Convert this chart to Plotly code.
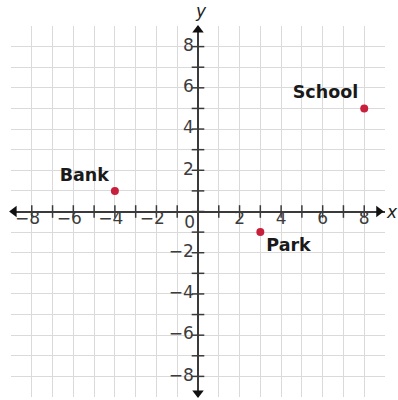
import plotly.graph_objects as go

# places on the coordinate plane
place_names = ["Bank", "School", "Park"]
place_x = [-4, 8, 3]
place_y = [1, 5, -1]
label_pos = ["top left", "top left", "bottom right"]

# axis tick values
ticks = list(range(-8, 9))
tick_labels = [-8, -6, -4, -2, 2, 4, 6, 8]

FONT = "DejaVu Sans"
AXIS_COLOR = "#3a3a3a"
LABEL_COLOR = "#3c3c3c"

fig = go.Figure()

# small tick marks on the two axes
fig.add_trace(go.Scatter(
    x=ticks, y=[0] * len(ticks), mode="markers",
    marker=dict(symbol="line-ns", size=9, line=dict(width=1.5, color=AXIS_COLOR)),
    hoverinfo="skip", cliponaxis=False))
fig.add_trace(go.Scatter(
    x=[0] * len(ticks), y=ticks, mode="markers",
    marker=dict(symbol="line-ew", size=9, line=dict(width=1.5, color=AXIS_COLOR)),
    hoverinfo="skip", cliponaxis=False))

# arrow heads
fig.add_trace(go.Scatter(
    x=[-8.85, 8.7, 0, 0], y=[0, 0, 8.8, -8.8], mode="markers",
    marker=dict(symbol=["triangle-left", "triangle-right", "triangle-up", "triangle-down"],
                size=10, color="#111111"),
    hoverinfo="skip", cliponaxis=False))

# x tick labels (minus sign hangs to the left)
fig.add_trace(go.Scatter(
    x=[v - 0.2 if v < 0 else v for v in tick_labels], y=[0] * len(tick_labels),
    mode="text", text=[str(v).replace("-", "\u2212") for v in tick_labels],
    textposition="bottom center", textfont=dict(family=FONT, size=17, color=LABEL_COLOR),
    hoverinfo="skip", cliponaxis=False))
# y tick labels
fig.add_trace(go.Scatter(
    x=[-0.2] * len(tick_labels), y=tick_labels,
    mode="text", text=[str(v).replace("-", "\u2212") for v in tick_labels],
    textposition="middle left", textfont=dict(family=FONT, size=17, color=LABEL_COLOR),
    hoverinfo="skip", cliponaxis=False))
# origin label
fig.add_trace(go.Scatter(
    x=[-0.4], y=[-0.6], mode="text", text=["0"],
    textfont=dict(family=FONT, size=17, color=LABEL_COLOR),
    hoverinfo="skip", cliponaxis=False))

# the places
fig.add_trace(go.Scatter(
    x=place_x, y=place_y, mode="markers+text",
    text=["<b>%s</b>" % n for n in place_names], textposition=label_pos,
    textfont=dict(family=FONT, size=17.5, color="#1a1a1a"),
    marker=dict(size=8, color="#c8203c"),
    cliponaxis=False))

# axis names (outside the axis ranges, so placed in paper units)
fig.add_annotation(x=0.508, y=1.04, xref="paper", yref="paper", text="<i>y</i>",
                   xanchor="center", yanchor="middle",
                   showarrow=False, font=dict(family=FONT, size=17, color="#222222"))
fig.add_annotation(x=1.018, y=0.5, xref="paper", yref="paper", text="<i>x</i>",
                   xanchor="center", yanchor="middle",
                   showarrow=False, font=dict(family=FONT, size=17, color="#222222"))

axis_common = dict(
    range=[-9, 9], dtick=1, tick0=0, showgrid=True, gridcolor="#dadada", gridwidth=1,
    zeroline=True, zerolinecolor=AXIS_COLOR, zerolinewidth=2,
    showticklabels=False, ticks="", showline=False, fixedrange=True)

fig.update_layout(
    width=398, height=400,
    margin=dict(l=11, r=13, t=26, b=3),
    paper_bgcolor="white", plot_bgcolor="white",
    showlegend=False,
    xaxis=axis_common,
    yaxis=axis_common,
)

fig.write_html("out.html", config={"displayModeBar": False},
               post_script="document.body.style.margin='0';")
